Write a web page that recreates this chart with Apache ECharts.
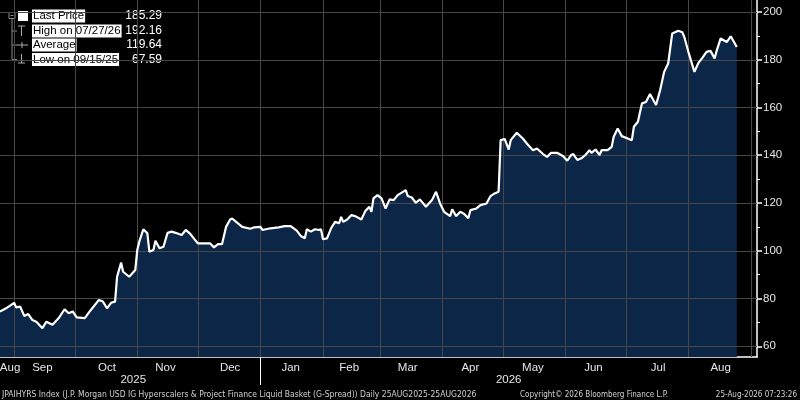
<!DOCTYPE html>
<html>
<head>
<meta charset="utf-8">
<script src="https://cdn.jsdelivr.net/npm/echarts@6/dist/echarts.min.js"></script>
<style>
  html, body { margin: 0; padding: 0; background: #000; }
  #main { width: 800px; height: 400px; }
</style>
</head>
<body>
<div id="main"></div>
<script>
// 数据：日期与价格
var dates = [
    '2025-08-25', '2025-08-28', '2025-09-01', '2025-09-02', '2025-09-04', '2025-09-06', '2025-09-08', '2025-09-10',
    '2025-09-12', '2025-09-15', '2025-09-17', '2025-09-20', '2025-09-23', '2025-09-26', '2025-09-28', '2025-09-30',
    '2025-10-02', '2025-10-06', '2025-10-09', '2025-10-13', '2025-10-15', '2025-10-17', '2025-10-19', '2025-10-21',
    '2025-10-22', '2025-10-24', '2025-10-25', '2025-10-28', '2025-10-31',
    '2025-11-01', '2025-11-02', '2025-11-04', '2025-11-06', '2025-11-07', '2025-11-09', '2025-11-10', '2025-11-12',
    '2025-11-14', '2025-11-16', '2025-11-18', '2025-11-20', '2025-11-23', '2025-11-25', '2025-11-27', '2025-11-29',
    '2025-12-01', '2025-12-04', '2025-12-07', '2025-12-09', '2025-12-11', '2025-12-13', '2025-12-15', '2025-12-17',
    '2025-12-18', '2025-12-20', '2025-12-23', '2025-12-27', '2025-12-29',
    '2026-01-01', '2026-01-02', '2026-01-06', '2026-01-10', '2026-01-13', '2026-01-16', '2026-01-19', '2026-01-21',
    '2026-01-23', '2026-01-24', '2026-01-26', '2026-01-28', '2026-01-30', '2026-01-31',
    '2026-02-01', '2026-02-03', '2026-02-05', '2026-02-07', '2026-02-09', '2026-02-10', '2026-02-11', '2026-02-13',
    '2026-02-15', '2026-02-17', '2026-02-20', '2026-02-22', '2026-02-24', '2026-02-25', '2026-02-26', '2026-02-28',
    '2026-03-02', '2026-03-03', '2026-03-04', '2026-03-06', '2026-03-08', '2026-03-10', '2026-03-14', '2026-03-15',
    '2026-03-17', '2026-03-19', '2026-03-21', '2026-03-24', '2026-03-27', '2026-03-29', '2026-03-31',
    '2026-04-02', '2026-04-05', '2026-04-06', '2026-04-08', '2026-04-10', '2026-04-12', '2026-04-14', '2026-04-15',
    '2026-04-18', '2026-04-20', '2026-04-23', '2026-04-25', '2026-04-27', '2026-04-29', '2026-04-30',
    '2026-05-02', '2026-05-04', '2026-05-05', '2026-05-08', '2026-05-11', '2026-05-13', '2026-05-16', '2026-05-18',
    '2026-05-21', '2026-05-23', '2026-05-25', '2026-05-28', '2026-05-31',
    '2026-06-02', '2026-06-04', '2026-06-05', '2026-06-07', '2026-06-09', '2026-06-11', '2026-06-13', '2026-06-14',
    '2026-06-16', '2026-06-18', '2026-06-19', '2026-06-22', '2026-06-24', '2026-06-25', '2026-06-27', '2026-06-29',
    '2026-07-02', '2026-07-04', '2026-07-05', '2026-07-07', '2026-07-09', '2026-07-11', '2026-07-13', '2026-07-16',
    '2026-07-18', '2026-07-20', '2026-07-22', '2026-07-24', '2026-07-27', '2026-07-29', '2026-07-30',
    '2026-08-01', '2026-08-02', '2026-08-04', '2026-08-06', '2026-08-08', '2026-08-10', '2026-08-12', '2026-08-14',
    '2026-08-15', '2026-08-17', '2026-08-20', '2026-08-22', '2026-08-25'
];
var prices = [
    74.5, 75.9, 78.2, 76.3, 76.6, 72.7, 73.5, 71.0,
    70.3, 67.59, 70.3, 69.0, 71.7, 75.5, 73.8, 74.6,
    72.1, 71.8, 75.2, 79.4, 78.7, 75.9, 78.2, 78.7,
    89.1, 95.0, 91.2, 89.1, 91.9,
    100.3, 103.8, 109.0, 107.3, 99.6, 100.3, 104.2, 101.0,
    101.7, 107.5, 108.0, 107.5, 106.6, 108.7, 107.3, 105.2,
    103.1, 103.1, 103.1, 101.4, 102.8, 102.8, 110.0, 113.1,
    113.5, 112.1, 110.0, 109.2, 109.8,
    110.0, 108.7, 109.4, 109.8, 110.3, 110.3, 108.4, 106.2,
    105.2, 109.0, 108.0, 109.0, 108.7, 109.0,
    104.8, 105.2, 109.4, 112.1, 111.5, 114.2, 112.1, 113.1,
    114.9, 114.5, 113.1, 116.7, 118.4, 116.3, 121.9, 123.3,
    121.9, 119.8, 117.7, 121.5, 121.2, 123.3, 125.4, 122.9,
    122.3, 120.1, 121.5, 118.4, 121.2, 124.7, 119.8,
    116.3, 114.5, 117.3, 114.5, 116.3, 115.4, 113.6, 117.0,
    117.7, 119.1, 119.8, 122.9, 124.0, 124.7, 146.3,
    146.8, 142.4, 146.3, 149.4, 147.0, 144.9, 142.1, 142.8,
    140.5, 139.3, 141.0, 141.0, 139.6,
    137.7, 140.1, 140.5, 138.0, 138.7, 140.1, 142.1, 141.0,
    142.4, 140.1, 142.1, 142.1, 143.5, 147.7, 151.2, 148.0,
    147.0, 146.3, 151.9, 154.0, 161.7, 162.3, 165.6, 161.0,
    167.2, 174.9, 178.4, 191.0, 192.16, 191.5, 189.5,
    183.3, 180.5, 174.9, 178.7, 180.9, 183.3, 183.7, 180.5,
    183.7, 188.9, 187.4, 189.8, 185.29
];

// 坐标轴刻度
var axisStart = '2025-08-25';
var axisEnd = '2026-09-04';
var monthStarts = [
    '2025-09-01', '2025-10-01', '2025-11-01', '2025-12-01', '2026-01-01', '2026-02-01', '2026-03-01',
    '2026-04-01', '2026-05-01', '2026-06-01', '2026-07-01', '2026-08-01', '2026-09-01'
];
var monthLabelDates = [
    '2025-08-30', '2025-09-15', '2025-10-17', '2025-11-15', '2025-12-17', '2026-01-16', '2026-02-14',
    '2026-03-15', '2026-04-15', '2026-05-16', '2026-06-15', '2026-07-17', '2026-08-17'
];
var monthLabels = ['Aug', 'Sep', 'Oct', 'Nov', 'Dec', 'Jan', 'Feb', 'Mar', 'Apr', 'May', 'Jun', 'Jul', 'Aug'];
var yearLabelDates = ['2025-10-30', '2026-05-04'];
var yearLabels = ['2025', '2026'];
var yearBreaks = ['2026-01-01'];
var yMin = 55.5;
var yMax = 205;
var yStep = 20;
var yGridValues = [60, 80, 100, 120, 140, 160, 180, 200];
var yMinorTicks = [70, 90, 110, 130, 150, 170, 190];

// 图例文字
var legendLabels = ['Last Price', 'High on 07/27/26', 'Average', 'Low on 09/15/25'];
var legendValues = ['185.29', '192.16', '119.64', '67.59'];
var lastPrice = 185.29;

var footerLeft = 'JPAIHYRS Index (J.P. Morgan USD IG Hyperscalers & Project Finance Liquid Basket (G-Spread)) Daily 25AUG2025-25AUG2026';
var footerMid = 'Copyright\u00A9 2026 Bloomberg Finance L.P.';
var footerRight = '25-Aug-2026 07:23:26';

// 日期字符串转时间戳
function ts(d) { return Date.parse(d); }

var seriesData = dates.map(function (d, i) { return [ts(d), prices[i]]; });
var monthStartTs = monthStarts.map(ts);
var monthLabelTs = monthLabelDates.map(ts);
var yearLabelTs = yearLabelDates.map(ts);

var myChart = echarts.init(document.getElementById('main'));

var labelFont = 'Liberation Sans, Arial, sans-serif';
var footFont = 'Liberation Sans Narrow, DejaVu Sans Condensed, sans-serif';
// 虚线在此环境下画不出来，用暗灰实线近似点状网格
var gridStyle = { stroke: '#474747', lineWidth: 1 };

function crisp(v) { return Math.round(v) + 0.5; }
function renderVLine(params, api) {
    var top = api.coord([api.value(0), yMax]);
    var bottom = api.coord([api.value(0), yMin]);
    var x = crisp(top[0]);
    return { type: 'line', shape: { x1: x, y1: top[1], x2: x, y2: bottom[1] }, style: gridStyle };
}
function renderHLine(params, api) {
    var left = api.coord([ts(axisStart), api.value(1)]);
    var right = api.coord([ts(axisEnd), api.value(1)]);
    var y = crisp(left[1]);
    return { type: 'line', shape: { x1: left[0], y1: y, x2: right[0], y2: y }, style: gridStyle };
}

// 图例 graphic 元素
var rowY = [16, 31, 45, 59.5];
var legendGraphics = [
    { type: 'line', shape: { x1: 12, y1: 19, x2: 12, y2: 59.5 }, style: { stroke: '#8a8a8a', lineWidth: 1 } },
    { type: 'rect', shape: { x: 9, y: 12.5, width: 6, height: 6 }, style: { stroke: '#8a8a8a', fill: '#000', lineWidth: 1 } },
    { type: 'line', shape: { x1: 10.5, y1: 15.5, x2: 13.5, y2: 15.5 }, style: { stroke: '#8a8a8a', lineWidth: 1 } },
    { type: 'line', shape: { x1: 12, y1: 31, x2: 17, y2: 31 }, style: { stroke: '#8a8a8a', lineWidth: 1 } },
    { type: 'line', shape: { x1: 12, y1: 45, x2: 16, y2: 45 }, style: { stroke: '#8a8a8a', lineWidth: 1 } },
    { type: 'line', shape: { x1: 12, y1: 59.5, x2: 17, y2: 59.5 }, style: { stroke: '#8a8a8a', lineWidth: 1 } },
    { type: 'rect', shape: { x: 18, y: 11, width: 10, height: 10 }, style: { fill: '#fff' } },
    { type: 'line', shape: { x1: 18, y1: 26, x2: 25, y2: 26 }, style: { stroke: '#aaa', lineWidth: 1 } },
    { type: 'line', shape: { x1: 21.5, y1: 26, x2: 21.5, y2: 36 }, style: { stroke: '#aaa', lineWidth: 1 } },
    { type: 'line', shape: { x1: 16, y1: 45, x2: 28, y2: 45 }, style: { stroke: '#aaa', lineWidth: 1 } },
    { type: 'line', shape: { x1: 22, y1: 42, x2: 22, y2: 48 }, style: { stroke: '#aaa', lineWidth: 1 } },
    { type: 'line', shape: { x1: 21.5, y1: 54, x2: 21.5, y2: 63 }, style: { stroke: '#aaa', lineWidth: 1 } },
    { type: 'line', shape: { x1: 18, y1: 63, x2: 25, y2: 63 }, style: { stroke: '#aaa', lineWidth: 1 } }
];
legendLabels.forEach(function (txt, i) {
    legendGraphics.push({
        type: 'text', x: 32, y: rowY[i],
        style: { text: txt, fill: '#000', backgroundColor: '#fff', padding: [1, 1, 0, 1], verticalAlign: 'middle', font: '11.5px ' + labelFont }
    });
    legendGraphics.push({
        type: 'text', x: 162, y: rowY[i],
        style: { text: legendValues[i], fill: '#fff', align: 'right', verticalAlign: 'middle', font: '12px ' + labelFont }
    });
});

var option = {
    backgroundColor: '#000',
    animation: false,
    title: [
        { text: footerLeft, left: 2, bottom: 1, padding: 0, textStyle: { color: '#d0d0d0', fontSize: 8.5, fontWeight: 'normal', fontFamily: footFont } },
        { text: footerMid, left: 520, bottom: 1, padding: 0, textStyle: { color: '#d0d0d0', fontSize: 8, fontWeight: 'normal', fontFamily: footFont } },
        { text: footerRight, right: 3, bottom: 1, padding: 0, textStyle: { color: '#d0d0d0', fontSize: 8, fontWeight: 'normal', fontFamily: footFont } }
    ],
    grid: { left: 0, right: 43, top: 0, bottom: 43, outerBoundsMode: 'none' },
    xAxis: [{
        type: 'value',
        min: ts(axisStart),
        max: ts(axisEnd),
        axisLine: { show: true, lineStyle: { color: '#fff', width: 1.5 } },
        axisTick: { show: true, inside: true, length: 3, lineStyle: { color: '#fff' }, customValues: monthStartTs },
        splitLine: { show: false },
        axisLabel: {
            customValues: monthLabelTs,
            margin: 5,
            color: '#e6e6e6',
            fontSize: 11.5,
            fontFamily: labelFont,
            formatter: function (value) {
                var idx = monthLabelTs.indexOf(value);
                return idx >= 0 ? monthLabels[idx] : '';
            }
        }
    }, {
        type: 'value',
        position: 'bottom',
        min: ts(axisStart),
        max: ts(axisEnd),
        axisLine: { show: false },
        axisTick: { show: true, length: 28, lineStyle: { color: '#fff', width: 1 }, customValues: yearBreaks.map(ts) },
        splitLine: { show: false },
        axisLabel: {
            customValues: yearLabelTs,
            margin: 17,
            color: '#e6e6e6',
            fontSize: 11.5,
            fontFamily: labelFont,
            formatter: function (value) {
                var idx = yearLabelTs.indexOf(value);
                return idx >= 0 ? yearLabels[idx] : '';
            }
        }
    }],
    yAxis: [{
        type: 'value',
        position: 'right',
        min: yMin,
        max: yMax,
        minInterval: yStep,
        maxInterval: yStep,
        axisLine: { show: true, lineStyle: { color: '#fff', width: 1.5 } },
        axisTick: { show: true, length: 5, lineStyle: { color: '#fff', width: 1.5 } },
        splitLine: { show: false },
        axisLabel: { showMinLabel: false, showMaxLabel: false, margin: 6, color: '#e6e6e6', fontSize: 11.5, fontFamily: labelFont }
    }, {
        type: 'value',
        position: 'right',
        min: yMin,
        max: yMax,
        axisLine: { show: false },
        axisTick: { show: true, length: 3, lineStyle: { color: '#fff', width: 1 }, customValues: yMinorTicks },
        splitLine: { show: false },
        axisLabel: { show: false }
    }],
    series: [{
        // 面积
        name: 'Area',
        type: 'line',
        xAxisIndex: 0,
        yAxisIndex: 0,
        z: 1,
        silent: true,
        data: seriesData,
        showSymbol: false,
        lineStyle: { width: 0 },
        areaStyle: { color: '#0c2647', opacity: 1 }
    }, {
        name: 'MonthGrid',
        type: 'custom',
        xAxisIndex: 0,
        yAxisIndex: 0,
        z: 2,
        silent: true,
        data: monthStartTs.map(function (t) { return [t, yMin]; }),
        renderItem: renderVLine
    }, {
        name: 'ValueGrid',
        type: 'custom',
        xAxisIndex: 0,
        yAxisIndex: 0,
        z: 2,
        silent: true,
        data: yGridValues.map(function (v) { return [ts(axisStart), v]; }),
        renderItem: renderHLine
    }, {
        name: 'Last Price',
        type: 'line',
        xAxisIndex: 0,
        yAxisIndex: 0,
        z: 3,
        data: seriesData,
        showSymbol: false,
        lineStyle: { color: '#ffffff', width: 2.2 },
        markLine: {
            silent: true,
            symbol: ['none', 'none'],
            lineStyle: { opacity: 0 },
            data: [{
                yAxis: lastPrice,
                label: {
                    show: true,
                    position: 'end',
                    distance: 2,
                    formatter: '185.29',
                    color: '#000',
                    backgroundColor: '#fff',
                    padding: [3, 3, 2, 4],
                    borderRadius: 3,
                    fontSize: 11.5,
                    fontFamily: labelFont
                }
            }]
        }
    }],
    graphic: legendGraphics
};

myChart.setOption(option);
</script>
</body>
</html>
